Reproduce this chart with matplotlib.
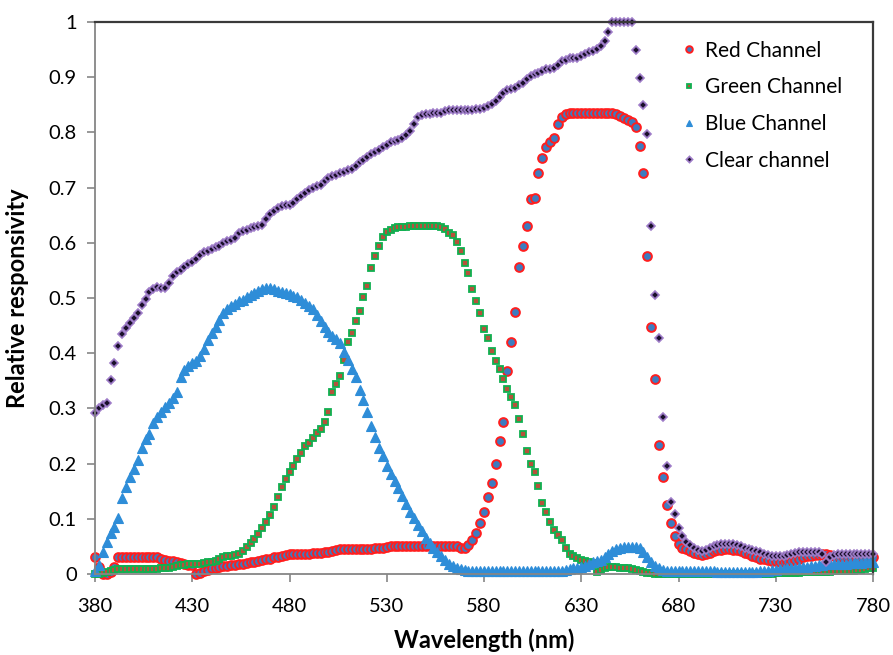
import numpy as np
import matplotlib
matplotlib.use("Agg")
import matplotlib.pyplot as plt

# wavelength grid, 2 nm steps
wavelength = np.arange(380, 781, 2)

red = [
    0.030, 0.012, 0.000, 0.000, 0.003, 0.012, 0.030, 0.031, 0.031, 0.031,
    0.031, 0.031, 0.031, 0.031, 0.031, 0.031, 0.030, 0.028, 0.026, 0.024,
    0.023, 0.021, 0.020, 0.019, 0.017, 0.016, 0.000, 0.002, 0.006, 0.008,
    0.010, 0.011, 0.012, 0.014, 0.015, 0.016, 0.017, 0.018, 0.019, 0.020,
    0.021, 0.022, 0.024, 0.025, 0.027, 0.028, 0.030, 0.031, 0.033, 0.035,
    0.036, 0.037, 0.037, 0.037, 0.037, 0.037, 0.038, 0.038, 0.038, 0.039,
    0.040, 0.042, 0.044, 0.045, 0.046, 0.046, 0.046, 0.046, 0.046, 0.046,
    0.046, 0.046, 0.047, 0.047, 0.048, 0.049, 0.050, 0.050, 0.051, 0.051,
    0.051, 0.051, 0.051, 0.051, 0.051, 0.051, 0.051, 0.051, 0.051, 0.051,
    0.051, 0.051, 0.051, 0.050, 0.048, 0.048, 0.052, 0.062, 0.075, 0.093,
    0.112, 0.139, 0.164, 0.200, 0.241, 0.275, 0.368, 0.421, 0.475, 0.556,
    0.594, 0.631, 0.680, 0.681, 0.726, 0.754, 0.774, 0.782, 0.790, 0.815,
    0.828, 0.834, 0.835, 0.835, 0.835, 0.835, 0.835, 0.835, 0.835, 0.835,
    0.835, 0.835, 0.835, 0.835, 0.833, 0.830, 0.826, 0.822, 0.818, 0.809,
    0.775, 0.726, 0.576, 0.447, 0.354, 0.234, 0.175, 0.125, 0.093, 0.068,
    0.054, 0.048, 0.045, 0.041, 0.038, 0.036, 0.035, 0.036, 0.038, 0.041,
    0.043, 0.044, 0.045, 0.045, 0.044, 0.043, 0.041, 0.038, 0.036, 0.033,
    0.030, 0.028, 0.027, 0.025, 0.024, 0.023, 0.022, 0.022, 0.023, 0.024,
    0.026, 0.028, 0.030, 0.032, 0.033, 0.034, 0.035, 0.036, 0.037, 0.035,
    0.032, 0.031, 0.031, 0.031, 0.031, 0.031, 0.031, 0.031, 0.031, 0.031,
    0.031,
]

green = [
    0.000, 0.000, 0.002, 0.003, 0.005, 0.007, 0.009, 0.009, 0.009, 0.009,
    0.009, 0.009, 0.009, 0.009, 0.009, 0.009, 0.009, 0.010, 0.010, 0.011,
    0.013, 0.015, 0.016, 0.017, 0.018, 0.019, 0.019, 0.019, 0.020, 0.021,
    0.021, 0.024, 0.028, 0.030, 0.032, 0.033, 0.035, 0.037, 0.041, 0.049,
    0.056, 0.063, 0.073, 0.083, 0.095, 0.106, 0.122, 0.140, 0.157, 0.173,
    0.184, 0.195, 0.208, 0.220, 0.231, 0.238, 0.247, 0.256, 0.263, 0.275,
    0.294, 0.330, 0.345, 0.359, 0.388, 0.421, 0.437, 0.458, 0.476, 0.502,
    0.522, 0.555, 0.576, 0.594, 0.611, 0.620, 0.624, 0.627, 0.628, 0.629,
    0.629, 0.630, 0.630, 0.630, 0.630, 0.630, 0.630, 0.630, 0.630, 0.629,
    0.625, 0.618, 0.614, 0.602, 0.585, 0.563, 0.545, 0.516, 0.495, 0.472,
    0.444, 0.428, 0.404, 0.386, 0.371, 0.353, 0.336, 0.321, 0.306, 0.281,
    0.253, 0.222, 0.199, 0.184, 0.159, 0.129, 0.113, 0.095, 0.080, 0.071,
    0.062, 0.047, 0.037, 0.033, 0.029, 0.026, 0.024, 0.022, 0.020, 0.004,
    0.007, 0.010, 0.012, 0.013, 0.012, 0.011, 0.010, 0.010, 0.009, 0.008,
    0.006, 0.004, 0.002, 0.001, 0.000, 0.000, 0.000, 0.000, 0.000, 0.000,
    0.000, 0.000, 0.000, 0.000, 0.000, 0.000, 0.000, 0.000, 0.000, 0.000,
    0.000, 0.000, 0.000, 0.000, 0.000, 0.000, 0.000, 0.000, 0.000, 0.000,
    0.000, 0.000, 0.000, 0.000, 0.000, 0.001, 0.001, 0.001, 0.002, 0.002,
    0.002, 0.002, 0.003, 0.003, 0.003, 0.003, 0.004, 0.004, 0.004, 0.004,
    0.005, 0.005, 0.005, 0.006, 0.006, 0.006, 0.007, 0.008, 0.009, 0.010,
    0.011,
]

blue = [
    0.005, 0.016, 0.040, 0.058, 0.075, 0.086, 0.102, 0.137, 0.158, 0.176,
    0.191, 0.207, 0.228, 0.244, 0.253, 0.273, 0.285, 0.294, 0.303, 0.309,
    0.318, 0.330, 0.357, 0.370, 0.376, 0.382, 0.386, 0.395, 0.407, 0.424,
    0.436, 0.448, 0.461, 0.472, 0.480, 0.486, 0.490, 0.495, 0.497, 0.501,
    0.505, 0.509, 0.513, 0.516, 0.519, 0.519, 0.516, 0.512, 0.511, 0.509,
    0.507, 0.504, 0.501, 0.497, 0.491, 0.486, 0.480, 0.470, 0.458, 0.447,
    0.439, 0.431, 0.426, 0.418, 0.403, 0.388, 0.371, 0.357, 0.333, 0.316,
    0.294, 0.268, 0.249, 0.229, 0.213, 0.196, 0.182, 0.169, 0.155, 0.141,
    0.127, 0.113, 0.101, 0.089, 0.077, 0.066, 0.057, 0.048, 0.040, 0.032,
    0.025, 0.019, 0.014, 0.011, 0.009, 0.007, 0.006, 0.005, 0.005, 0.005,
    0.005, 0.005, 0.005, 0.005, 0.005, 0.005, 0.005, 0.005, 0.005, 0.005,
    0.005, 0.005, 0.005, 0.005, 0.005, 0.005, 0.005, 0.005, 0.005, 0.005,
    0.005, 0.007, 0.009, 0.010, 0.011, 0.013, 0.015, 0.018, 0.021, 0.023,
    0.026, 0.030, 0.036, 0.042, 0.046, 0.048, 0.049, 0.049, 0.049, 0.049,
    0.048, 0.040, 0.030, 0.022, 0.015, 0.010, 0.007, 0.005, 0.005, 0.005,
    0.005, 0.005, 0.005, 0.005, 0.005, 0.005, 0.005, 0.005, 0.005, 0.005,
    0.004, 0.004, 0.004, 0.004, 0.004, 0.004, 0.004, 0.004, 0.004, 0.004,
    0.004, 0.005, 0.005, 0.006, 0.007, 0.008, 0.009, 0.009, 0.010, 0.011,
    0.011, 0.012, 0.012, 0.013, 0.014, 0.015, 0.016, 0.017, 0.018, 0.018,
    0.019, 0.019, 0.019, 0.019, 0.020, 0.020, 0.020, 0.020, 0.021, 0.021,
    0.021,
]

clear = [
    0.292, 0.300, 0.306, 0.310, 0.351, 0.382, 0.413, 0.435, 0.445, 0.454,
    0.463, 0.473, 0.487, 0.498, 0.510, 0.516, 0.520, 0.519, 0.519, 0.528,
    0.539, 0.547, 0.551, 0.556, 0.561, 0.566, 0.570, 0.577, 0.584, 0.586,
    0.588, 0.592, 0.594, 0.600, 0.603, 0.605, 0.609, 0.617, 0.622, 0.624,
    0.626, 0.628, 0.630, 0.633, 0.643, 0.652, 0.658, 0.663, 0.666, 0.668,
    0.669, 0.672, 0.679, 0.685, 0.690, 0.696, 0.699, 0.702, 0.705, 0.712,
    0.718, 0.721, 0.723, 0.726, 0.729, 0.731, 0.734, 0.740, 0.746, 0.750,
    0.755, 0.760, 0.764, 0.769, 0.774, 0.778, 0.782, 0.785, 0.787, 0.790,
    0.795, 0.803, 0.815, 0.827, 0.831, 0.833, 0.834, 0.835, 0.836, 0.836,
    0.838, 0.840, 0.841, 0.841, 0.841, 0.841, 0.841, 0.841, 0.842, 0.843,
    0.845, 0.848, 0.851, 0.857, 0.865, 0.872, 0.876, 0.878, 0.881, 0.885,
    0.889, 0.896, 0.902, 0.905, 0.907, 0.911, 0.914, 0.915, 0.917, 0.922,
    0.929, 0.932, 0.934, 0.935, 0.935, 0.938, 0.942, 0.945, 0.947, 0.951,
    0.956, 0.966, 0.981, 1.000, 1.000, 1.000, 1.000, 1.000, 1.000, 0.949,
    0.899, 0.850, 0.798, 0.631, 0.505, 0.428, 0.285, 0.196, 0.131, 0.108,
    0.084, 0.068, 0.058, 0.052, 0.048, 0.044, 0.042, 0.044, 0.047, 0.050,
    0.052, 0.054, 0.054, 0.054, 0.054, 0.053, 0.051, 0.048, 0.046, 0.043,
    0.041, 0.039, 0.036, 0.034, 0.033, 0.033, 0.033, 0.033, 0.034, 0.036,
    0.038, 0.040, 0.040, 0.040, 0.040, 0.040, 0.039, 0.037, 0.022, 0.030,
    0.035, 0.036, 0.036, 0.036, 0.036, 0.036, 0.036, 0.036, 0.036, 0.036,
    0.036,
]

x_ticks = [380, 430, 480, 530, 580, 630, 680, 730, 780]
y_ticks = [0, 0.1, 0.2, 0.3, 0.4, 0.5, 0.6, 0.7, 0.8, 0.9, 1]
y_tick_labels = ["0", "0.1", "0.2", "0.3", "0.4", "0.5", "0.6", "0.7", "0.8", "0.9", "1"]

plt.rcParams['font.family'] = ['Lato', 'DejaVu Sans']

fig = plt.figure(figsize=(8.93, 6.55), dpi=100)
ax = fig.add_axes([95 / 893, 81 / 655, 778 / 893, 552 / 655])

ax.plot(wavelength, red, linestyle='none', marker='o', markersize=6.3,
        markerfacecolor='#3D7CC0', markeredgecolor='#FF1E1E', markeredgewidth=1.4,
        label='Red Channel', clip_on=False)
ax.plot(wavelength, green, linestyle='none', marker='s', markersize=4.6,
        markerfacecolor='#B5523B', markeredgecolor='#10B050', markeredgewidth=1.3,
        label='Green Channel', clip_on=False)
ax.plot(wavelength, blue, linestyle='none', marker='^', markersize=6.5,
        markerfacecolor='#2E8DD8', markeredgecolor='#2E8DD8', markeredgewidth=0.8,
        label='Blue Channel', clip_on=False)
ax.plot(wavelength, clear, linestyle='none', marker='D', markersize=4.2,
        markerfacecolor='#1A0F2A', markeredgecolor='#9E7CC8', markeredgewidth=1.2,
        label='Clear channel', clip_on=False)

ax.set_xlim(380, 780)
ax.set_ylim(0, 1)
ax.set_xticks(x_ticks)
ax.set_yticks(y_ticks)
ax.set_yticklabels(y_tick_labels)
ax.tick_params(axis='both', direction='out', length=6, width=1.2, color='#868686',
               labelsize=14.5, pad=7)
ax.tick_params(axis='x', pad=11)

for side in ['left', 'bottom']:
    ax.spines[side].set_color('#868686')
    ax.spines[side].set_linewidth(1.3)
for side in ['top', 'right']:
    ax.spines[side].set_color('#3A3A3A')
    ax.spines[side].set_linewidth(1.6)

ax.set_xlabel('Wavelength (nm)', fontsize=17, fontweight='bold', labelpad=10)
ax.set_ylabel('Relative responsivity', fontsize=17, fontweight='bold', labelpad=14)

ax.legend(loc='upper right', bbox_to_anchor=(0.985, 1.0), frameon=False,
          fontsize=15, handletextpad=0.2, labelspacing=0.8, handlelength=1.2,
          markerscale=0.75)

fig.savefig('out.png', dpi=100)
